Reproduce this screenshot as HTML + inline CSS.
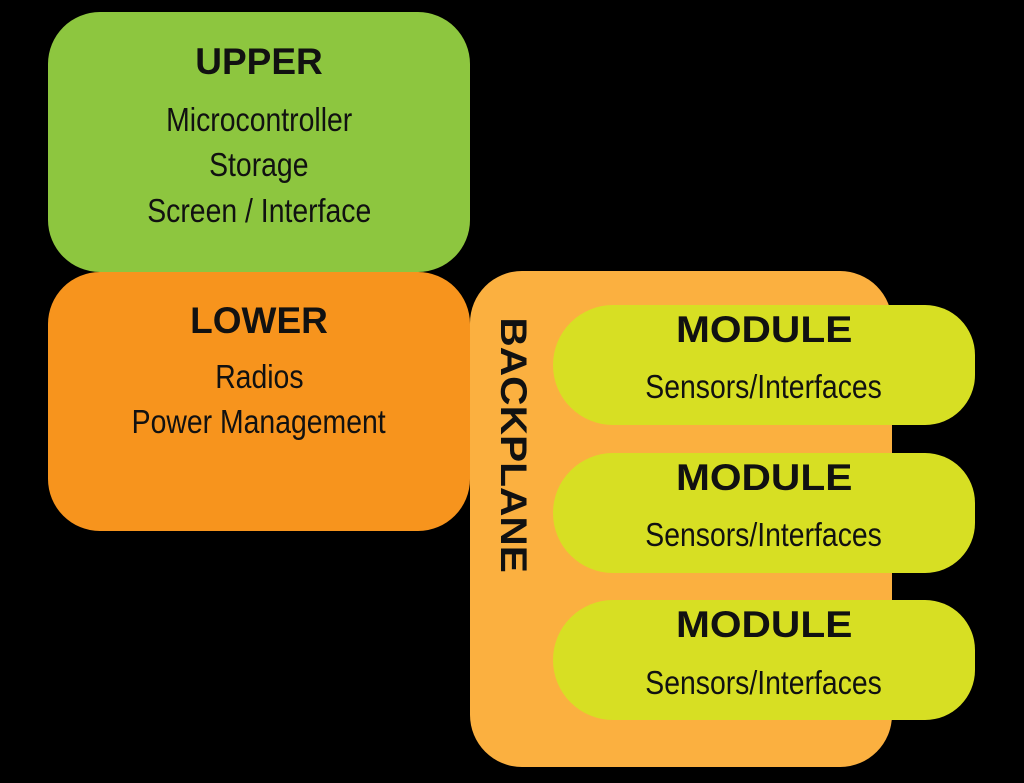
<!DOCTYPE html>
<html><head><style>
body{margin:0;width:1024px;height:783px;background:#000;position:relative;overflow:hidden;font-family:"Liberation Sans",sans-serif;}
.b{position:absolute;box-sizing:border-box;}
.l{position:absolute;width:600px;text-align:center;color:#111;white-space:nowrap;}
.l span{display:inline-block;transform:scaleX(0.86);}
.h{font-weight:900;font-size:37px;line-height:40px;}
.h span{transform:scaleX(1.0);}
.h.m span{transform:scaleX(1.1);}
.t{font-size:33px;line-height:40px;}
</style></head><body>
<div class="b" style="left:48px;top:12px;width:422px;height:260px;background:#8dc63f;border-radius:52px"></div>
<div class="b" style="left:48px;top:272px;width:422px;height:259px;background:#f7941d;border-radius:52px"></div>
<div class="b" style="left:470px;top:271px;width:422px;height:496px;background:#fbb040;border-radius:52px"></div>
<div class="b" style="left:553px;top:305px;width:422px;height:120px;background:#d7df23;border-radius:60px 50px 50px 60px/60px 50px 50px 60px"></div>
<div class="b" style="left:553px;top:453px;width:422px;height:120px;background:#d7df23;border-radius:60px 50px 50px 60px/60px 50px 50px 60px"></div>
<div class="b" style="left:553px;top:600px;width:422px;height:120px;background:#d7df23;border-radius:60px 50px 50px 60px/60px 50px 50px 60px"></div>

<div class="l h" style="left:-41px;top:42px"><span>UPPER</span></div>
<div class="l t" style="left:-41px;top:100px"><span>Microcontroller</span></div>
<div class="l t" style="left:-41px;top:145px"><span>Storage</span></div>
<div class="l t" style="left:-41px;top:191px"><span>Screen / Interface</span></div>
<div class="l h" style="left:-41px;top:301px"><span>LOWER</span></div>
<div class="l t" style="left:-41px;top:357px"><span>Radios</span></div>
<div class="l t" style="left:-41px;top:402px"><span>Power Management</span></div>

<div class="l h m" style="left:213px;top:425px;width:600px;transform:rotate(90deg)"><span>BACKPLANE</span></div>

<div class="l h m" style="left:464px;top:310px"><span>MODULE</span></div>
<div class="l t" style="left:464px;top:367px"><span>Sensors/Interfaces</span></div>
<div class="l h m" style="left:464px;top:458px"><span>MODULE</span></div>
<div class="l t" style="left:464px;top:515px"><span>Sensors/Interfaces</span></div>
<div class="l h m" style="left:464px;top:605px"><span>MODULE</span></div>
<div class="l t" style="left:464px;top:663px"><span>Sensors/Interfaces</span></div>
</body></html>
